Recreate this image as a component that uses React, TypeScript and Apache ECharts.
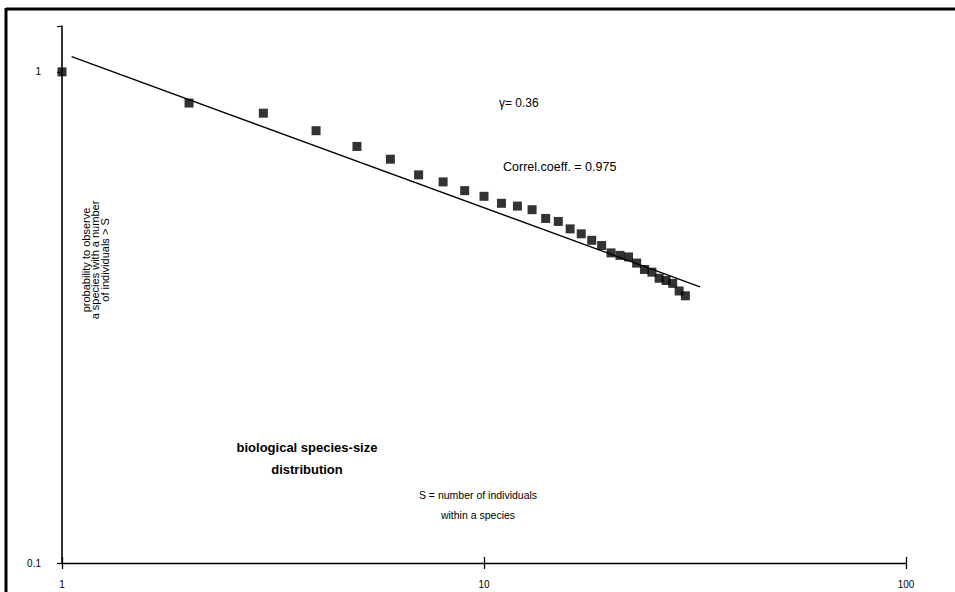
import React, { useEffect, useRef } from "react";
import * as echarts from "echarts";

// S = number of individuals within a species
const speciesSize = [
  1, 2, 3, 4, 5, 6, 7, 8, 9, 10, 11, 12, 13, 14, 15, 16, 17, 18, 19, 20, 21, 22,
  23, 24, 25, 26, 27, 28, 29, 30,
];
// probability to observe a species with a number of individuals > S
const probability = [
  1.0, 0.864, 0.824, 0.759, 0.705, 0.664, 0.617, 0.597, 0.573, 0.558, 0.54,
  0.533, 0.524, 0.503, 0.496, 0.479, 0.468, 0.454, 0.443, 0.428, 0.423, 0.42,
  0.408, 0.396, 0.391, 0.38, 0.376, 0.371, 0.358, 0.35,
];
// fitted power law (end points of the drawn line)
const fitX = [1.054, 32.5];
const fitY = [1.074, 0.365];

const xTickLabels = ["1", "10", "100"];
const yTickLabels = ["0.1", "1"];

const FONT = "'Liberation Sans', Arial, Helvetica, sans-serif";
const NARROW = "'Liberation Sans Narrow', 'Liberation Sans', Arial, sans-serif";

export default function App() {
  const ref = useRef<HTMLDivElement>(null);
  useEffect(() => {
    if (!ref.current) return;
    const chart = echarts.init(ref.current, undefined, { renderer: "svg" });
    const fmt = (labels: string[]) => (v: number) => {
      const hit = labels.find((l) => Math.abs(parseFloat(l) - v) < 1e-9 * Math.max(1, v));
      return hit ?? "";
    };
    chart.setOption({
      animation: false,
      backgroundColor: "#ffffff",
      grid: { left: 62, right: 49, top: 26, bottom: 29, containLabel: false },
      xAxis: [
        {
          type: "log",
          logBase: 10,
          min: 1,
          max: 100,
          position: "bottom",
          axisLine: { show: true, lineStyle: { color: "#000", width: 1.3 } },
          axisTick: { show: true, inside: false, length: 6, lineStyle: { color: "#000", width: 1.3 } },
          axisLabel: {
            show: true,
            margin: 16,
            color: "#000",
            fontSize: 10,
            fontFamily: NARROW,
            formatter: fmt(xTickLabels),
          },
          splitLine: { show: false },
          minorTick: { show: false },
        },
        {
          type: "log",
          logBase: 10,
          min: 1,
          max: 100,
          position: "bottom",
          offset: 0,
          axisLine: { show: false },
          axisTick: { show: true, inside: true, length: 6, lineStyle: { color: "#000", width: 1.3 } },
          axisLabel: { show: false },
          splitLine: { show: false },
        },
      ],
      yAxis: {
        type: "log",
        logBase: 10,
        min: 0.1,
        max: 1.24,
        axisLine: { show: true, lineStyle: { color: "#000", width: 1.6 } },
        axisTick: { show: true, inside: false, length: 5, lineStyle: { color: "#000", width: 1.2 } },
        axisLabel: {
          show: true,
          margin: 21,
          color: "#000",
          fontSize: 10,
          fontFamily: NARROW,
          formatter: fmt(yTickLabels),
        },
        splitLine: { show: false },
      },
      series: [
        {
          type: "line",
          data: fitX.map((x, i) => [x, fitY[i]]),
          showSymbol: false,
          symbol: "none",
          lineStyle: { color: "#000", width: 1.3 },
          clip: false,
          silent: true,
        },
        {
          type: "scatter",
          data: speciesSize.map((s, i) => [s, probability[i]]),
          symbol: "rect",
          symbolSize: 9,
          itemStyle: { color: "#000" },
          clip: false,
        },
      ],
      graphic: [
        { type: "line", shape: { x1: 6, y1: 9, x2: 955, y2: 9 }, style: { stroke: "#000", lineWidth: 3 } },
        { type: "line", shape: { x1: 6, y1: 8, x2: 6, y2: 592 }, style: { stroke: "#000", lineWidth: 3 } },
        {
          type: "text",
          x: 499,
          y: 103,
          style: { text: "γ= 0.36", fontSize: 12, fontFamily: NARROW, fill: "#000", verticalAlign: "middle" },
        },
        {
          type: "text",
          x: 503,
          y: 167,
          style: { text: "Correl.coeff. = 0.975", fontSize: 12.5, fontFamily: FONT, fill: "#000", verticalAlign: "middle" },
        },
        {
          type: "text",
          x: 307,
          y: 458,
          style: {
            text: "biological species-size\ndistribution",
            fontSize: 13,
            fontWeight: "bold",
            fontFamily: FONT,
            fill: "#000",
            align: "center",
            verticalAlign: "middle",
            lineHeight: 22,
          },
        },
        {
          type: "text",
          x: 478,
          y: 505,
          style: {
            text: "S = number of individuals\nwithin a species",
            fontSize: 10.5,
            fontFamily: FONT,
            fill: "#000",
            align: "center",
            verticalAlign: "middle",
            lineHeight: 20,
          },
        },
        {
          type: "text",
          x: 95,
          y: 260,
          rotation: Math.PI / 2,
          style: {
            text: "probability to observe\na species with a number\nof individuals > S",
            fontSize: 11,
            fontFamily: NARROW,
            fill: "#000",
            align: "center",
            verticalAlign: "middle",
            lineHeight: 9.5,
          },
        },
      ],
    });
    return () => chart.dispose();
  }, []);
  return (
    <div
      ref={ref}
      style={{ position: "fixed", left: 0, top: 0, width: 955, height: 592, background: "#fff" }}
    />
  );
}
